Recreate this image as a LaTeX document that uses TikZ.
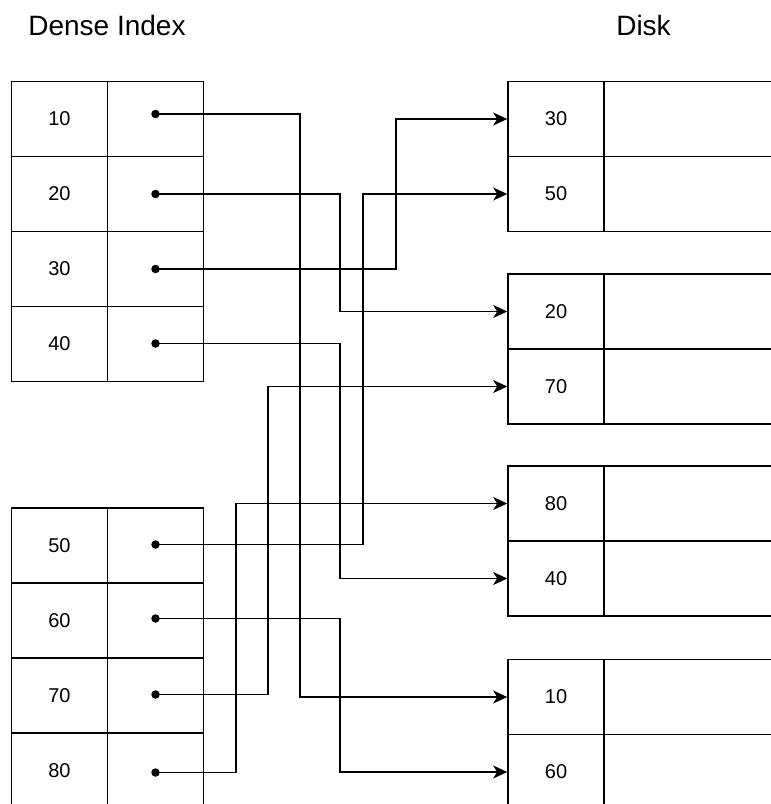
\documentclass[tikz,border=0pt]{standalone}
\usepackage{fontspec}
\setmainfont{Liberation Sans}
\usetikzlibrary{arrows.meta}
\begin{document}
\begin{tikzpicture}[x=1pt,y=-1pt,
  cell/.style={draw, line width=1.6pt, minimum width=96pt, minimum height=75pt, inner sep=0pt, font=\fontsize{20}{24}\selectfont},
  datacell/.style={draw, line width=1.6pt, minimum width=196pt, minimum height=75pt, inner sep=0pt},
  ptrdot/.style={circle, fill, inner sep=0pt, minimum size=8.5pt},
  conn/.style={line width=1.6pt, -{Stealth[length=14pt,width=13pt,inset=4pt]}},
  title/.style={font=\fontsize{28}{34}\selectfont, anchor=base}]
\useasboundingbox (0,0) rectangle (771,804);

% titles
\node[title] (tdense) at (107,35) {Dense Index};
\node[title] (tdisk) at (643.5,35) {Disk};

% dense index, block 1
\foreach \v/\y in {10/119, 20/194, 30/269, 40/344}{
  \node[cell] (k\v) at (59.5,\y) {\v};
  \node[cell] (p\v) at (155.5,\y) {};
}
% dense index, block 2
\foreach \v/\y in {50/545.5, 60/620.5, 70/695.5, 80/770.5}{
  \node[cell] (k\v) at (59.5,\y) {\v};
  \node[cell] (p\v) at (155.5,\y) {};
}

% pointer dots
\node[ptrdot] (d10) at (155.5,114) {};
\node[ptrdot] (d20) at (155.5,194) {};
\node[ptrdot] (d30) at (155.5,269) {};
\node[ptrdot] (d40) at (155.5,343.5) {};
\node[ptrdot] (d50) at (155.5,544.5) {};
\node[ptrdot] (d60) at (155.5,618.5) {};
\node[ptrdot] (d70) at (155.5,694.5) {};
\node[ptrdot] (d80) at (155.5,772.5) {};

% disk blocks
\foreach \v/\y in {30/119, 50/194, 20/311.5, 70/386.5, 80/503.5, 40/578.5, 10/697, 60/772}{
  \node[cell] (r\v) at (556,\y) {\v};
  \node[datacell] (s\v) at (702,\y) {};
}

% channel coordinates
\coordinate (x236) at (236,0);
\coordinate (x268) at (268,0);
\coordinate (x300) at (300,0);
\coordinate (x340) at (340,0);
\coordinate (x363) at (363,0);
\coordinate (x396) at (396,0);

% connectors
\draw[conn] (d10.center) -- (d10.center -| x300) |- (r10.west);
\draw[conn] (d20.center) -- (d20.center -| x340) |- (r20.west);
\draw[conn] (d30.center) -- (d30.center -| x396) |- (r30.west);
\draw[conn] (d40.center) -- (d40.center -| x340) |- (r40.west);
\draw[conn] (d50.center) -- (d50.center -| x363) |- (r50.west);
\draw[conn] (d60.center) -- (d60.center -| x340) |- (r60.west);
\draw[conn] (d70.center) -- (d70.center -| x268) |- (r70.west);
\draw[conn] (d80.center) -- (d80.center -| x236) |- (r80.west);
\end{tikzpicture}
\end{document}
